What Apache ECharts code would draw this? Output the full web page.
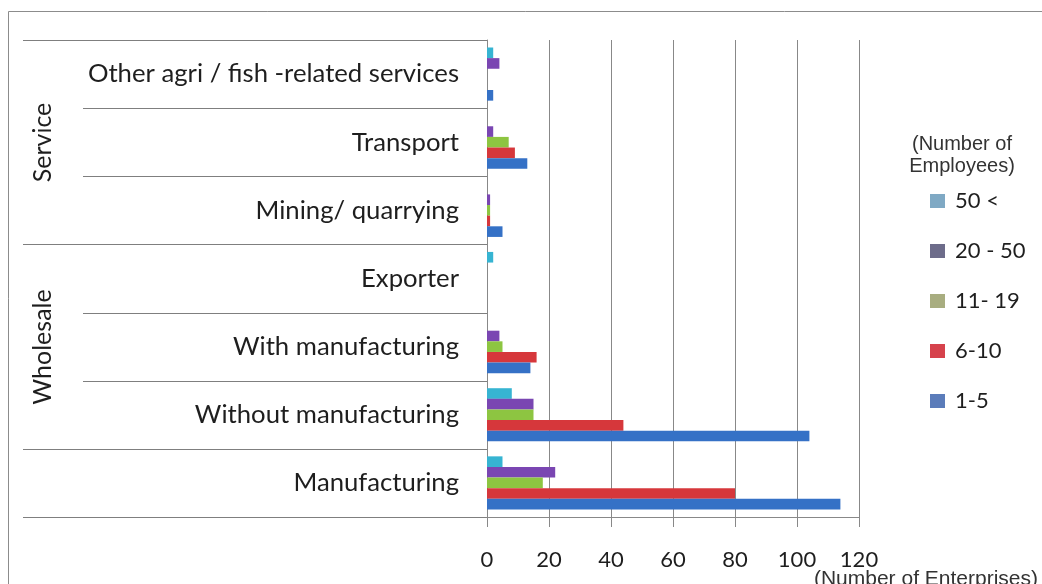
<!DOCTYPE html>
<html>
<head>
<meta charset="utf-8">
<script src="https://cdn.jsdelivr.net/npm/echarts@6/dist/echarts.min.js"></script>
<style>
  html, body { margin: 0; padding: 0; background: #ffffff; }
  #chart { width: 1042px; height: 584px; }
</style>
</head>
<body>
<div id="chart"></div>
<script>
// Industries, listed bottom to top as the category axis draws them
const categories = [
  'Manufacturing',
  'Without manufacturing',
  'With manufacturing',
  'Exporter',
  'Mining/ quarrying',
  'Transport',
  'Other agri / fish -related services'
];

// Number of enterprises by employee-size class
const seriesNames = ['50 <', '20 - 50', '11- 19', '6-10', '1-5'];
const over50     = [5,   8,   0,  2, 0, 0,  2];
const from20to50 = [22,  15,  4,  0, 1, 2,  4];
const from11to19 = [18,  15,  5,  0, 1, 7,  0];
const from6to10  = [80,  44,  16, 0, 1, 9,  0];
const from1to5   = [114, 104, 14, 0, 5, 13, 2];

const xTicks = [0, 20, 40, 60, 80, 100, 120];

// Sector groups spanning category indexes [from, to]
const groups = [
  { name: 'Wholesale', from: 1, to: 3 },
  { name: 'Service',   from: 4, to: 6 }
];

const barColors    = ['#36b4d2', '#7a46b2', '#8dc541', '#d6373b', '#3571c6'];
const legendColors = ['#7fa9c4', '#6d6c8a', '#a8ad80', '#d6424c', '#5b7cba'];

const seriesValues = [over50, from20to50, from11to19, from6to10, from1to5];

const chart = echarts.init(document.getElementById('chart'), null, { renderer: 'canvas' });

const option = {
  animation: false,
  backgroundColor: '#ffffff',
  grid: { left: 487, top: 40, right: 183, bottom: 67, containLabel: false },
  legend: {
    orient: 'vertical',
    left: 925,
    top: 185,
    itemWidth: 15,
    itemHeight: 14,
    itemGap: 28,
    icon: 'rect',
    textStyle: { fontFamily: 'Lato', fontSize: 22, color: '#1e1e1e', lineHeight: 22, padding: [0, 0, 0, 5] },
    data: seriesNames.map((n, i) => ({ name: n, itemStyle: { color: legendColors[i] } }))
  },
  xAxis: {
    type: 'value',
    min: xTicks[0],
    max: xTicks[xTicks.length - 1],
    interval: xTicks[1] - xTicks[0],
    axisLine: { show: true, lineStyle: { color: '#888', width: 1 } },
    axisTick: { show: true, length: 10, lineStyle: { color: '#888' } },
    splitLine: { show: true, lineStyle: { color: '#888', width: 1 } },
    axisLabel: { fontFamily: 'Lato', fontSize: 22, color: '#1e1e1e', margin: 32 }
  },
  yAxis: {
    type: 'category',
    data: categories,
    axisLine: { show: true, lineStyle: { color: '#888', width: 1 } },
    axisTick: { show: false },
    splitLine: { show: false },
    axisLabel: { fontFamily: 'Lato', fontSize: 25.7, color: '#1e1e1e', margin: 28 }
  },
  series: seriesNames.map((name, i) => ({
    name: name,
    type: 'bar',
    data: seriesValues[i],
    barGap: '0%',
    barCategoryGap: '22%',
    itemStyle: { color: barColors[i] }
  }))
};

chart.setOption(option);

// Category boundary rules and sector labels on the left of the axis
function drawFrame() {
  const x0 = chart.convertToPixel({ xAxisIndex: 0 }, 0);
  const y0 = chart.convertToPixel({ yAxisIndex: 0 }, categories[0]);
  const y1 = chart.convertToPixel({ yAxisIndex: 0 }, categories[1]);
  const band = Math.abs(y0 - y1);
  const boundary = k => Math.round(y0 + band / 2 - k * band) + 0.5;
  const longRules = [0, 1, 4, categories.length];
  const elements = [];

  for (let k = 0; k <= categories.length; k++) {
    const reach = longRules.includes(k) ? 464 : 404;
    elements.push({
      type: 'line',
      shape: { x1: x0 - reach, y1: boundary(k), x2: x0, y2: boundary(k) },
      style: { stroke: '#7f7f7f', lineWidth: 1 }
    });
  }

  groups.forEach(g => {
    const yc = (boundary(g.from) + boundary(g.to + 1)) / 2;
    elements.push({
      type: 'text',
      x: 43,
      y: yc,
      rotation: Math.PI / 2,
      style: {
        text: g.name,
        font: '25px Lato',
        fill: '#1e1e1e',
        align: 'center',
        verticalAlign: 'middle'
      }
    });
  });

  // Outer chart frame
  elements.push({
    type: 'rect',
    shape: { x: 8.5, y: 11.5, width: 1040, height: 600 },
    style: { fill: null, stroke: '#8c8c8c', lineWidth: 1 },
    z: -1
  });

  // Legend heading
  elements.push({
    type: 'text',
    x: 962,
    y: 133,
    style: {
      text: '(Number of\nEmployees)',
      font: '20px "Liberation Sans"',
      fill: '#333',
      align: 'center',
      lineHeight: 22
    }
  });

  // Value axis unit
  elements.push({
    type: 'text',
    x: 1038,
    y: 569,
    style: {
      text: '(Number of Enterprises)',
      font: '21px "Liberation Sans"',
      fill: '#333',
      align: 'right'
    }
  });

  chart.setOption({ graphic: { elements: elements } });
}

drawFrame();
</script>
</body>
</html>
